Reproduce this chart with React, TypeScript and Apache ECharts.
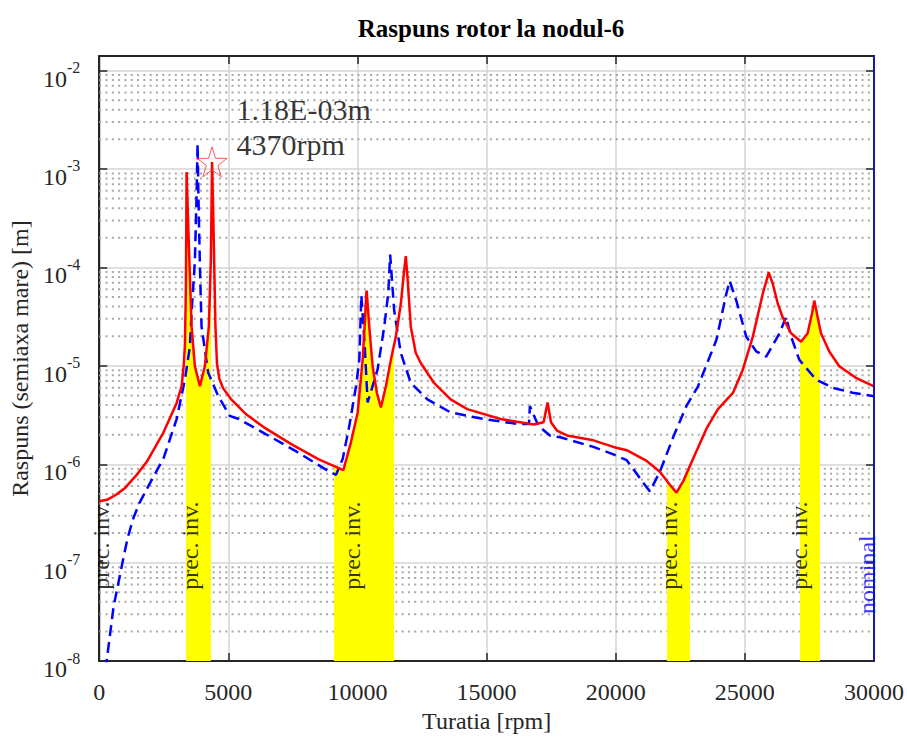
import React, { useEffect, useRef } from 'react';
import * as echarts from 'echarts';

const FONT = '"Liberation Serif", "Times New Roman", serif';
const AXIS_COLOR = '#262626';

// X axis ticks [rpm]
const xMin = 0;
const xMax = 30000;
const xStep = 5000;
// Y axis range [m]
const yMin = 1e-8;
const yMax = 0.01406;
const decadeExponents = [-8, -7, -6, -5, -4, -3];
const minorMultipliers = [2, 3, 4, 5, 6, 7, 8, 9];

// Red solid curve: [rpm, m]
const redData: [number, number][] = [
  [0, 4.2e-7], [300, 4.35e-7], [650, 4.9e-7], [1000, 5.75e-7], [1450, 7.8e-7],
  [1840, 1.06e-6], [2485, 2.1e-6], [2998, 4.2e-6], [3190, 6.2e-6], [3270, 1.0e-5],
  [3318, 1.6e-5], [3357, 6.3e-5], [3383, 9.3e-4], [3449, 2.5e-4], [3576, 2.5e-5],
  [3704, 9.9e-6], [3897, 6.2e-6], [4090, 9.9e-6], [4244, 2.5e-5], [4321, 1.16e-4],
  [4370, 1.18e-3], [4420, 3.0e-4], [4452, 1.1e-4], [4500, 2.5e-5], [4560, 1.05e-5],
  [4650, 7.4e-6], [4800, 5.9e-6], [5100, 4.6e-6], [5700, 3.2e-6],
  [6350, 2.4e-6], [7435, 1.6e-6], [8500, 1.12e-6], [9452, 8.7e-7], [9749, 1.68e-6],
  [10008, 3.36e-6], [10200, 1.15e-5], [10289, 2.9e-5], [10340, 5.4e-5], [10355, 5.8e-5],
  [10456, 2.5e-5], [10586, 9.9e-6], [10752, 5.3e-6], [10907, 3.77e-6], [11100, 6.2e-6],
  [11293, 1.15e-5], [11485, 1.98e-5], [11678, 4.27e-5], [11806, 9.2e-5], [11871, 1.3e-4],
  [11937, 7.9e-5], [12064, 2.5e-5], [12257, 1.35e-5], [12450, 1.07e-5], [12963, 6.7e-6],
  [13607, 4.57e-6], [14251, 3.63e-6], [15536, 2.88e-6], [16821, 2.53e-6], [17207, 2.67e-6],
  [17361, 4.24e-6], [17492, 2.67e-6], [17723, 2.2e-6], [18109, 1.96e-6], [19136, 1.75e-6],
  [19907, 1.5e-6], [20424, 1.39e-6], [21196, 1.08e-6], [21709, 8.4e-7], [22095, 6.2e-7],
  [22353, 5.15e-7], [22609, 6.7e-7], [22995, 1.14e-6], [23511, 2.3e-6], [23958, 3.63e-6],
  [24537, 5.3e-6], [24923, 9.2e-6], [25308, 1.98e-5], [25694, 5.4e-5], [25926, 8.9e-5],
  [26080, 6.8e-5], [26273, 4.3e-5], [26466, 3.1e-5], [26790, 2.14e-5], [27176, 1.76e-5],
  [27430, 2.14e-5], [27600, 3.4e-5], [27689, 4.6e-5], [27816, 3.14e-5], [27947, 2.14e-5],
  [28268, 1.4e-5], [28654, 9.9e-6], [29297, 7.55e-6], [30000, 6.2e-6],
];

// Blue dashed curve: [rpm, m]
const blueData: [number, number][] = [
  [0, 2.5e-9], [297, 1.05e-8], [555, 3.56e-8], [941, 1.13e-7], [1100, 1.78e-7],
  [1327, 2.86e-7], [1550, 4.0e-7], [1840, 5.6e-7], [2150, 7.9e-7], [2485, 1.14e-6],
  [2998, 2.88e-6], [3318, 7.26e-6], [3511, 1.57e-5],
  [3576, 3.5e-5], [3704, 1.16e-4], [3770, 5.4e-4], [3808, 1.8e-3], [3850, 4e-4],
  [3900, 1e-4], [3962, 2.5e-5], [4220, 8.5e-6], [4606, 4.94e-6], [5054, 3.1e-6],
  [5378, 2.9e-6], [6343, 2.1e-6], [7628, 1.35e-6], [8912, 8.4e-7], [9170, 7.8e-7],
  [9429, 1.14e-6], [9686, 2.47e-6], [9942, 6.2e-6], [10071, 1.15e-5], [10150, 5.2e-5],
  [10280, 1.6e-5], [10393, 4.24e-6], [10779, 9.2e-6], [11036, 2.5e-5], [11190, 5.4e-5],
  [11265, 1.35e-4], [11420, 3.66e-5], [11678, 1.35e-5], [12064, 6.7e-6], [12707, 4.57e-6],
  [13607, 3.36e-6], [14893, 2.88e-6], [16178, 2.57e-6], [16640, 2.57e-6], [16675, 3.9e-6],
  [17000, 2.47e-6], [17450, 1.96e-6], [17851, 1.88e-6], [19136, 1.5e-6], [19907, 1.26e-6],
  [20424, 1.1e-6], [20800, 8.1e-7], [21100, 6.3e-7], [21323, 5.3e-7], [21709, 8.4e-7],
  [22222, 1.88e-6], [22739, 3.92e-6], [23186, 6.2e-6], [23896, 1.83e-5], [24282, 5.4e-5],
  [24410, 7.3e-5], [24668, 4.6e-5], [25054, 1.98e-5], [25440, 1.4e-5], [25826, 1.24e-5],
  [26340, 2.14e-5], [26597, 3.14e-5], [26790, 1.98e-5], [27109, 1.15e-5], [27755, 7.26e-6],
  [28396, 5.98e-6], [29168, 5.33e-6], [30000, 4.9e-6],
];

// Yellow "prec. inv." speed bands [rpm start, rpm end]
const precBands: [number, number][] = [
  [3357, 4321], [9078, 11416], [21967, 22893], [27136, 27908],
];
// "prec. inv." label anchors [rpm, m]
const precLabels: [number, number][] = [
  [50, 1.49e-7], [3500, 1.49e-7], [9780, 1.49e-7], [22050, 1.49e-7], [27110, 1.49e-7],
];
const precText = 'prec. inv.';
// nominal speed line
const nominalRpm = 30000;
const nominalLabel: [number, number] = [29716, 7.57e-8];
const nominalText = 'nominal';
// Peak marker
const peakPoint: [number, number] = [4370, 1.18e-3];
const peakText = ['1.18E-03m', '4370rpm'];

const titleText = 'Raspuns rotor la nodul-6';
const xName = 'Turatia [rpm]';
const yName = 'Raspuns (semiaxa mare) [m]';

function starSymbol(): string {
  const pts: string[] = [];
  for (let i = 0; i < 10; i++) {
    const a = -Math.PI / 2 + (i * Math.PI) / 5;
    const r = i % 2 === 0 ? 1 : 0.382;
    pts.push(`${(r * Math.cos(a)).toFixed(4)},${(r * Math.sin(a)).toFixed(4)}`);
  }
  return 'path://M' + pts.join('L') + 'Z';
}

export default function App() {
  const ref = useRef<HTMLDivElement>(null);

  useEffect(() => {
    if (!ref.current) return;
    const chart = echarts.init(ref.current, undefined, { renderer: 'svg' });

    // Minor log grid lines (2..9 x 10^n), drawn as broken horizontal segments
    const minorGridData: any[] = [];
    decadeExponents.forEach((e) => {
      minorMultipliers.forEach((m) => {
        const v = m * Math.pow(10, e);
        minorGridData.push([xMin, v], [xMax, v], [xMax, null]);
      });
    });

    const axisLine = { show: true, onZero: false, lineStyle: { color: AXIS_COLOR, width: 2 } };
    const axisTick = { show: true, inside: true, length: 8, lineStyle: { color: AXIS_COLOR, width: 1.5 } };

    const option: any = {
      animation: false,
      backgroundColor: '#ffffff',
      grid: {
        left: 97,
        right: 31,
        top: 56,
        bottom: 70,
        containLabel: false,
        show: true,
        borderColor: AXIS_COLOR,
        borderWidth: 2,
        backgroundColor: 'rgba(255,255,255,0)',
      },
      graphic: [
        {
          type: 'text',
          x: 491,
          y: 28,
          style: {
            text: titleText,
            font: `bold 25px ${FONT}`,
            fill: '#000',
            textAlign: 'center',
            textVerticalAlign: 'middle',
          },
        },
      ],
      visualMap: {
        show: false,
        type: 'piecewise',
        seriesIndex: 0,
        dimension: 0,
        pieces: precBands.map(([a, b]) => ({ gte: a, lte: b, color: '#ffff00' })),
        outOfRange: { color: 'rgba(255,255,255,0)' },
      },
      xAxis: [
        {
          type: 'value',
          min: xMin,
          max: xMax,
          interval: xStep,
          position: 'bottom',
          axisLine,
          axisTick,
          axisLabel: {
            fontSize: 24,
            color: AXIS_COLOR,
            fontFamily: FONT,
            margin: 19,
            formatter: (v: number) => String(v),
          },
          splitLine: { show: true, lineStyle: { color: '#d4d4d4', width: 1.5 } },
          name: xName,
          nameLocation: 'middle',
          nameGap: 42,
          nameTextStyle: { fontSize: 24, color: AXIS_COLOR, fontFamily: FONT },
        },
        {
          show: true,
          type: 'value',
          min: xMin,
          max: xMax,
          interval: xStep,
          position: 'top',
          axisLine,
          axisTick,
          axisLabel: { show: false },
          splitLine: { show: false },
        },
      ],
      yAxis: [
        {
          type: 'log',
          logBase: 10,
          min: yMin,
          max: yMax,
          position: 'left',
          axisLine,
          axisTick,
          axisLabel: {
            margin: 19,
            padding: [9, 0, 0, 0],
            showMaxLabel: false,
            formatter: (v: number) => {
              const e = Math.log10(v);
              const r = Math.round(e);
              if (Math.abs(e - r) > 1e-6) return '';
              return `{b|10}{s|${r}}`;
            },
            rich: {
              b: { fontSize: 24, lineHeight: 24, verticalAlign: 'bottom', color: AXIS_COLOR, fontFamily: FONT },
              s: { fontSize: 16, lineHeight: 31, verticalAlign: 'top', color: AXIS_COLOR, fontFamily: FONT },
            },
          },
          splitLine: { show: true, lineStyle: { color: '#d4d4d4', width: 1.5 } },
          name: yName,
          nameLocation: 'middle',
          nameGap: 62,
          nameRotate: 90,
          nameTextStyle: { fontSize: 24, color: AXIS_COLOR, fontFamily: FONT },
        },
        {
          show: true,
          type: 'log',
          logBase: 10,
          min: yMin,
          max: yMax,
          position: 'right',
          axisLine,
          axisTick,
          axisLabel: { show: false },
          splitLine: { show: false },
        },
      ],
      series: [
        {
          name: 'prec-inv-fill',
          type: 'line',
          data: redData,
          showSymbol: false,
          silent: true,
          z: 2,
          lineStyle: { width: 0 },
          areaStyle: { opacity: 1, origin: 'start' },
        },
        {
          name: 'blue',
          type: 'line',
          data: blueData,
          showSymbol: false,
          silent: true,
          z: 3,
          lineStyle: { color: '#0000ff', width: 2.5, type: [11, 6] },
          markLine: {
            silent: true,
            symbol: 'none',
            z: 6,
            label: { show: false },
            lineStyle: { color: '#1a1aa8', width: 2, type: 'solid' },
            data: [{ xAxis: nominalRpm }],
          },
        },
        {
          name: 'red',
          type: 'line',
          data: redData,
          showSymbol: false,
          silent: true,
          z: 4,
          lineStyle: { color: '#ff0000', width: 2.5 },
        },
        {
          name: 'peak',
          type: 'scatter',
          data: [peakPoint],
          symbol: starSymbol(),
          symbolSize: 30,
          z: 6,
          silent: true,
          itemStyle: { color: 'rgba(255,255,255,0)', borderColor: '#ff3030', borderWidth: 1 },
          label: {
            show: true,
            formatter: peakText.join('\n'),
            position: 'right',
            distance: 9,
            offset: [0, -35],
            fontSize: 30,
            lineHeight: 35,
            color: '#000',
            fontFamily: FONT,
          },
        },
        {
          name: 'labels',
          type: 'scatter',
          clip: false,
          symbolSize: 0,
          silent: true,
          z: 7,
          data: [
            ...precLabels.map((p) => ({ name: precText, value: p, label: { color: '#000' } })),
            { name: nominalText, value: nominalLabel, label: { color: '#0000ff' } },
          ],
          label: {
            show: true,
            position: 'inside',
            rotate: 90,
            formatter: '{b}',
            fontSize: 24,
            fontFamily: FONT,
          },
        },
        {
          name: 'minor-grid',
          type: 'line',
          xAxisIndex: 1,
          yAxisIndex: 1,
          data: minorGridData,
          connectNulls: false,
          showSymbol: false,
          silent: true,
          z: 1,
          lineStyle: { color: '#a8a8a8', width: 2, type: [2, 4.3] },
        },
      ],
    };

    chart.setOption(option);
    return () => chart.dispose();
  }, []);

  return (
    <div
      ref={ref}
      style={{ position: 'fixed', left: 0, top: 0, width: 907, height: 738, background: '#fff' }}
    />
  );
}
